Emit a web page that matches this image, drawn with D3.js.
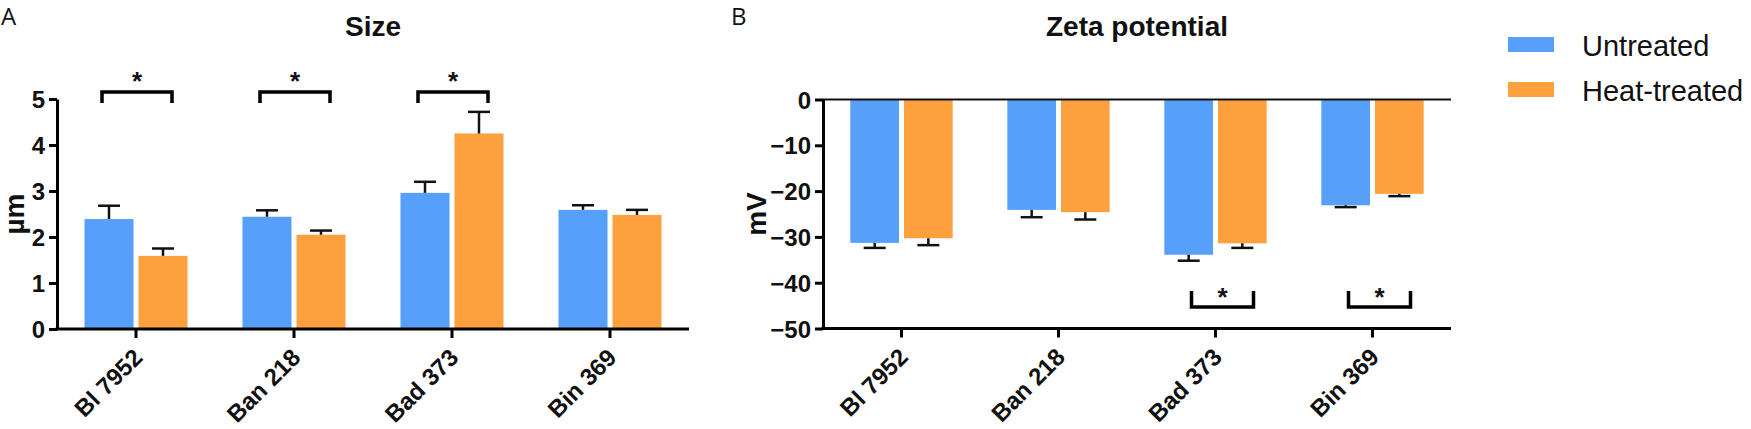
<!DOCTYPE html>
<html>
<head>
<meta charset="utf-8">
<script src="https://cdn.jsdelivr.net/npm/d3@7"></script>
<style>
  body { margin: 0; background: #fff; }
  svg { display: block; font-family: "Liberation Sans", Arial, sans-serif; }
</style>
</head>
<body>
<div id="chart"></div>
<script>
// categories and series
const categories = ["Bl 7952", "Ban 218", "Bad 373", "Bin 369"];
const series = ["Untreated", "Heat-treated"];

// panel A: size (µm), mean and SD
const sizeUntreated    = [2.39, 2.44, 2.96, 2.59];
const sizeUntreatedErr = [0.29, 0.14, 0.24, 0.10];
const sizeHeat         = [1.59, 2.05, 4.25, 2.48];
const sizeHeatErr      = [0.16, 0.09, 0.47, 0.11];
const sizeTicks = [0, 1, 2, 3, 4, 5];
const sizeSignificant = ["Bl 7952", "Ban 218", "Bad 373"];

// panel B: zeta potential (mV), mean and SD
const zetaUntreated    = [-31.3, -24.1, -33.9, -23.1];
const zetaUntreatedErr = [1.1, 1.6, 1.3, 0.4];
const zetaHeat         = [-30.3, -24.6, -31.4, -20.6];
const zetaHeatErr      = [1.5, 1.6, 1.0, 0.5];
const zetaTicks = [0, -10, -20, -30, -40, -50];
const zetaSignificant = ["Bad 373", "Bin 369"];

const colors = { "Untreated": "#56a0fc", "Heat-treated": "#ffa03f" };

const W = 1751, H = 429;
const svg = d3.select("#chart").append("svg")
  .attr("width", W).attr("height", H);

function drawPanel(opt) {
  const x = d3.scaleBand().domain(categories).range(opt.xRange).paddingInner(0.348).paddingOuter(0.174);
  const xs = d3.scaleBand().domain(series).range([0, x.bandwidth()]).paddingInner(0.0926);
  const y = d3.scaleLinear().domain(opt.yDomain).range([opt.yBottom, opt.yTop]);

  const g = svg.append("g");

  // rows of bars
  const rows = categories.map((c, i) => ({
    cat: c,
    vals: [
      { s: series[0], v: opt.untreated[i], e: opt.untreatedErr[i] },
      { s: series[1], v: opt.heat[i], e: opt.heatErr[i] }
    ]
  }));

  const grp = g.selectAll(".grp").data(rows).enter().append("g")
    .attr("transform", d => "translate(" + x(d.cat) + ",0)");

  grp.selectAll("rect").data(d => d.vals).enter().append("rect")
    .attr("x", d => xs(d.s))
    .attr("width", xs.bandwidth())
    .attr("y", d => Math.min(y(0), y(d.v)))
    .attr("height", d => Math.abs(y(d.v) - y(0)))
    .attr("fill", d => colors[d.s]);

  // one-sided error bars
  const capW = 22;
  const eb = grp.selectAll(".err").data(d => d.vals).enter().append("g");
  eb.append("line")
    .attr("x1", d => xs(d.s) + xs.bandwidth() / 2)
    .attr("x2", d => xs(d.s) + xs.bandwidth() / 2)
    .attr("y1", d => y(d.v))
    .attr("y2", d => y(d.v + Math.sign(d.v) * d.e))
    .attr("stroke", "#111").attr("stroke-width", 2.5);
  eb.append("line")
    .attr("x1", d => xs(d.s) + xs.bandwidth() / 2 - capW / 2)
    .attr("x2", d => xs(d.s) + xs.bandwidth() / 2 + capW / 2)
    .attr("y1", d => y(d.v + Math.sign(d.v) * d.e))
    .attr("y2", d => y(d.v + Math.sign(d.v) * d.e))
    .attr("stroke", "#111").attr("stroke-width", 2.5);

  // zero line for negative panel
  if (opt.zeroLine) {
    g.append("line")
      .attr("x1", opt.xRange[0]).attr("x2", opt.xRange[1])
      .attr("y1", y(0)).attr("y2", y(0))
      .attr("stroke", "#111").attr("stroke-width", 2);
  }

  // axes
  const yAxis = g.append("g")
    .attr("transform", "translate(" + opt.xRange[0] + ",0)")
    .call(d3.axisLeft(y).tickValues(opt.ticks).tickFormat(d3.format("d"))
      .tickSize(8).tickSizeOuter(0).tickPadding(4));
  const xAxis = g.append("g")
    .attr("transform", "translate(0," + opt.yBottom + ")")
    .call(d3.axisBottom(x).tickSize(9).tickSizeOuter(0).tickFormat(""));

  [yAxis, xAxis].forEach(a => {
    a.select(".domain").attr("stroke", "#000").attr("stroke-width", 3);
    a.selectAll(".tick line").attr("stroke", "#000").attr("stroke-width", 3);
  });
  yAxis.selectAll("text")
    .attr("fill", "#111").style("font-size", "24px").style("font-weight", "bold")
    .attr("dy", "0.36em");
  xAxis.select(".domain").attr("d", "M" + (opt.xRange[0] - 1.5) + ",0H" + opt.xRange[1]);

  // rotated category labels
  g.selectAll(".catLabel").data(categories).enter().append("text")
    .attr("transform", d => "translate(" + (x(d) + x.bandwidth() / 2 + 8) + "," + (opt.yBottom + 30) + ") rotate(-45)")
    .attr("text-anchor", "end")
    .style("font-size", "24px").style("font-weight", "bold").attr("fill", "#111")
    .text(d => d);

  // axis title
  g.append("text")
    .attr("transform", "translate(" + opt.yLabelX + "," + ((opt.yTop + opt.yBottom) / 2) + ") rotate(-90)")
    .attr("text-anchor", "middle").attr("dy", "0.35em")
    .style("font-size", "28px").style("font-weight", "bold").attr("fill", "#111")
    .text(opt.yLabel);

  // panel title
  g.append("text")
    .attr("x", (opt.xRange[0] + opt.xRange[1]) / 2).attr("y", 36)
    .attr("text-anchor", "middle")
    .style("font-size", "28px").style("font-weight", "bold").attr("fill", "#111")
    .text(opt.title);

  // panel letter
  g.append("text")
    .attr("x", opt.letterX).attr("y", 25)
    .style("font-size", "24px").attr("fill", "#111")
    .style("font-family", "'Open Sans', 'Liberation Sans', sans-serif")
    .text(opt.letter);

  // significance brackets
  opt.significant.forEach(c => {
    const cx = x(c) + x.bandwidth() / 2;
    const x0 = cx + opt.bracket[0], x1 = cx + opt.bracket[1];
    const yb = opt.bracketY, leg = opt.bracketLeg;
    g.append("path")
      .attr("d", "M" + x0 + "," + (yb + leg) + "V" + yb + "H" + x1 + "V" + (yb + leg))
      .attr("fill", "none").attr("stroke", "#000").attr("stroke-width", 3.5);
    g.append("text")
      .attr("x", (x0 + x1) / 2).attr("y", opt.starY)
      .attr("text-anchor", "middle")
      .style("font-size", "26px").style("font-weight", "bold").attr("fill", "#111")
      .text("*");
  });
}

drawPanel({
  title: "Size", letter: "A", letterX: 1, yLabel: "\u00b5m", yLabelX: 14,
  xRange: [57, 689], yTop: 99, yBottom: 329, yDomain: [0, 5], ticks: sizeTicks,
  untreated: sizeUntreated, untreatedErr: sizeUntreatedErr,
  heat: sizeHeat, heatErr: sizeHeatErr,
  significant: sizeSignificant, bracket: [-34, 36], bracketY: 92, bracketLeg: 11, starY: 90,
  zeroLine: false
});

drawPanel({
  title: "Zeta potential", letter: "B", letterX: 731, yLabel: "mV", yLabelX: 756,
  xRange: [823, 1451], yTop: 99.5, yBottom: 328.5, yDomain: [-50, 0], ticks: zetaTicks,
  untreated: zetaUntreated, untreatedErr: zetaUntreatedErr,
  heat: zetaHeat, heatErr: zetaHeatErr,
  significant: zetaSignificant, bracket: [-24, 38], bracketY: 307, bracketLeg: -16, starY: 306,
  zeroLine: true
});

// legend
const legend = svg.append("g").attr("transform", "translate(1508,37)");
const li = legend.selectAll("g").data(series).enter().append("g")
  .attr("transform", (d, i) => "translate(0," + i * 45 + ")");
li.append("rect").attr("width", 46).attr("height", 15).attr("fill", d => colors[d]);
li.append("text").attr("x", 74).attr("y", 18.5)
  .style("font-size", "29px").attr("fill", "#111")
  .text(d => d);
</script>
</body>
</html>
